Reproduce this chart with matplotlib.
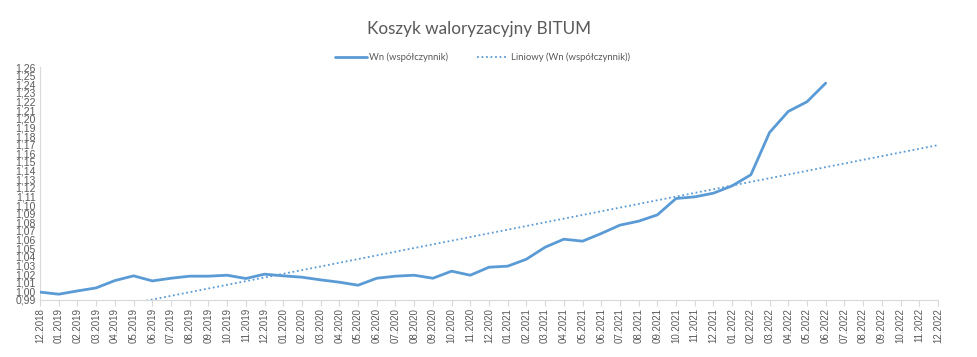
import numpy as np
import matplotlib
matplotlib.use("Agg")
import matplotlib.pyplot as plt

months = [f"{m:02d}.{y}" for y in range(2018, 2023) for m in range(1, 13)][11:]
wn = [0.999, 0.9966, 1.0004, 1.0039, 1.0124, 1.0179, 1.0120, 1.0151, 1.0175, 1.0175,
      1.0186, 1.0148, 1.0198, 1.0179, 1.0163, 1.0132, 1.0105, 1.0070, 1.0151, 1.0175,
      1.0186, 1.0151, 1.0233, 1.0186, 1.0279, 1.0291, 1.0372, 1.0511, 1.0604, 1.0581,
      1.0670, 1.0767, 1.0813, 1.0886, 1.1076, 1.1095, 1.1138, 1.1223, 1.1351, 1.1842,
      1.2086, 1.2198, 1.2414]

blue = "#5B9BD5"
grey = "#595959"

fig = plt.figure(figsize=(9.77, 3.57), dpi=100)
ax = fig.add_axes([0.041, 0.16, 0.919, 0.652])

x = np.arange(len(wn))
ax.plot(x, wn, color=blue, lw=2.0, solid_capstyle="round", label="Wn (współczynnik)", zorder=3)

# linear trend, extended to the end of the axis
k, b = np.polyfit(x, wn, 1)
xt = np.arange(len(months))
ax.plot(xt, k * xt + b, color=blue, lw=1.3, ls=(0, (1, 1.5)), label="Liniowy (Wn (współczynnik))")

ax.set_xlim(0, len(months) - 1)
ax.set_ylim(0.99, 1.26)
ax.set_xticks(xt)
ax.set_xticklabels(months, rotation=90, fontsize=7, color=grey, family="Liberation Sans")
yt = np.round(np.arange(0.99, 1.2601, 0.01), 2)
ax.set_yticks(yt)
ax.set_yticklabels([f"{v:.2f}".replace(".", ",") for v in yt], fontsize=7.5, color=grey,
                   family="Liberation Sans")
ax.tick_params(axis="y", length=0, pad=3)
ax.tick_params(axis="x", length=4, color="#d9d9d9", pad=2)

for s in ["top", "right"]:
    ax.spines[s].set_visible(False)
ax.spines["left"].set_color("#d9d9d9")
ax.spines["bottom"].set_color("#d9d9d9")

fig.text(0.49, 0.92, "Koszyk waloryzacyjny BITUM", ha="center", va="center",
         fontsize=12.3, color=grey, family="Lato")
leg = fig.legend(loc="center", bbox_to_anchor=(0.494, 0.84), ncol=2, frameon=False,
                 handlelength=3.3, columnspacing=3.0, handletextpad=0.3,
                 prop={"family": "Lato", "size": 6.8})
for t in leg.get_texts():
    t.set_color(grey)

fig.savefig("out.png", dpi=100)
